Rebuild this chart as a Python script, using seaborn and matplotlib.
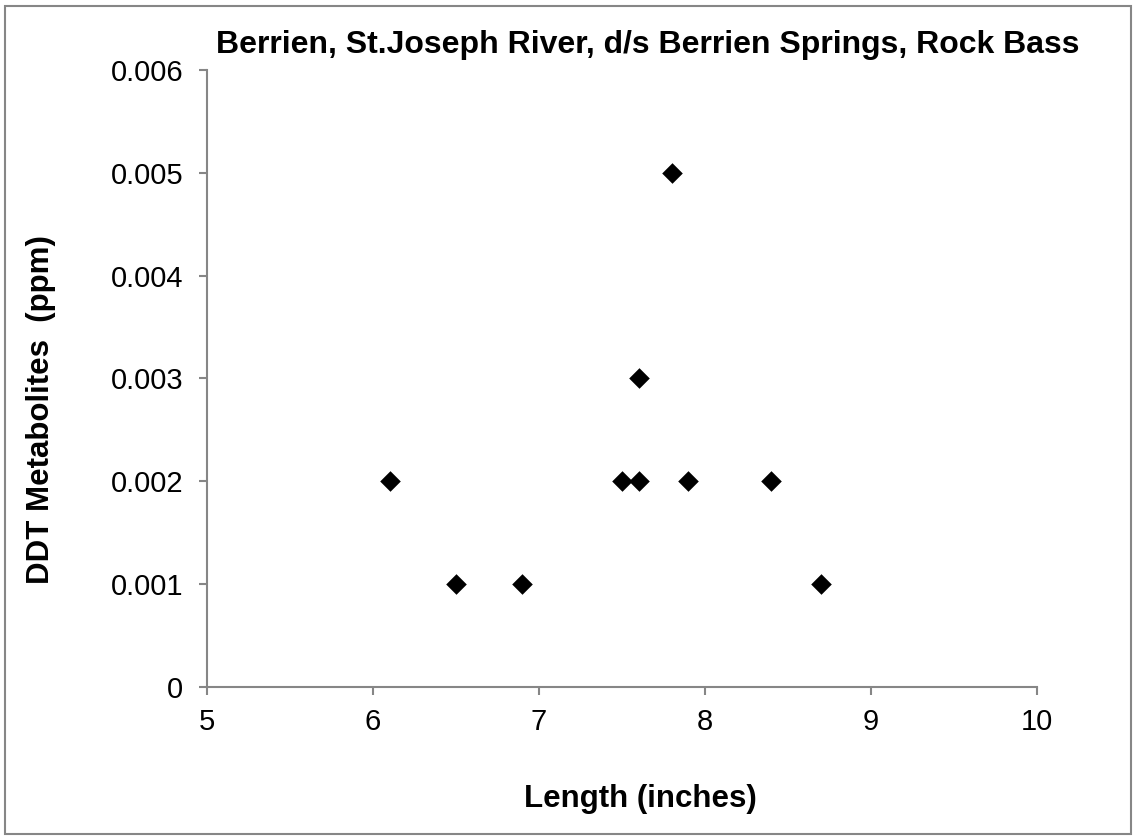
import matplotlib
matplotlib.use("Agg")
import matplotlib.pyplot as plt
import pandas as pd
import seaborn as sns

# Fish length vs DDT metabolites
length_in = [6.1, 6.5, 6.9, 7.5, 7.6, 7.6, 7.8, 7.9, 8.4, 8.7]
ddt_ppm = [0.002, 0.001, 0.001, 0.002, 0.002, 0.003, 0.005, 0.002, 0.002, 0.001]
x_ticks = [5, 6, 7, 8, 9, 10]
y_ticks = [0, 0.001, 0.002, 0.003, 0.004, 0.005, 0.006]
y_tick_labels = ["0", "0.001", "0.002", "0.003", "0.004", "0.005", "0.006"]

df = pd.DataFrame({"Length": length_in, "DDT": ddt_ppm})

sns.set_style("white")
plt.rcParams['font.family'] = ['Liberation Sans', 'DejaVu Sans']

fig = plt.figure(figsize=(11.36, 8.4), dpi=100)
ax = fig.add_axes([207 / 1136, 1 - 687 / 840, 830 / 1136, 617 / 840])

sns.scatterplot(data=df, x="Length", y="DDT", marker="D", s=110, color="black",
                edgecolor="black", linewidth=0, ax=ax)

ax.set_xlim(5, 10)
ax.set_ylim(0, 0.006)
ax.set_xticks(x_ticks)
ax.set_yticks(y_ticks)
ax.set_yticklabels(y_tick_labels)
ax.tick_params(axis="both", labelsize=21, length=6, width=1.5, color="#868686",
               labelcolor="black", direction="out", bottom=True, left=True)
ax.tick_params(axis="y", pad=11)
ax.tick_params(axis="x", pad=9)
for side in ["top", "right"]:
    ax.spines[side].set_visible(False)
for side in ["left", "bottom"]:
    ax.spines[side].set_color("#868686")
    ax.spines[side].set_linewidth(1.5)
ax.set_xlabel("")
ax.set_ylabel("")

fig.text(648 / 1136, 1 - 45 / 840, "Berrien, St.Joseph River, d/s Berrien Springs, Rock Bass",
         ha="center", va="center", fontsize=23, fontweight="bold", color="black")
fig.text(640 / 1136, 1 - 799 / 840, "Length (inches)", ha="center", va="center",
         fontsize=22.5, fontweight="bold", color="black")
fig.text(41 / 1136, 1 - 410 / 840, "DDT Metabolites  (ppm)", ha="center", va="center",
         rotation=90, fontsize=22.5, fontweight="bold", color="black")

# chart border
fig.patches.append(plt.Rectangle((5 / 1136, 1 - 834 / 840), 1126 / 1136, 828 / 840,
                                 transform=fig.transFigure, fill=False,
                                 edgecolor="#868686", linewidth=1.5))

fig.savefig("out.png", dpi=100)
